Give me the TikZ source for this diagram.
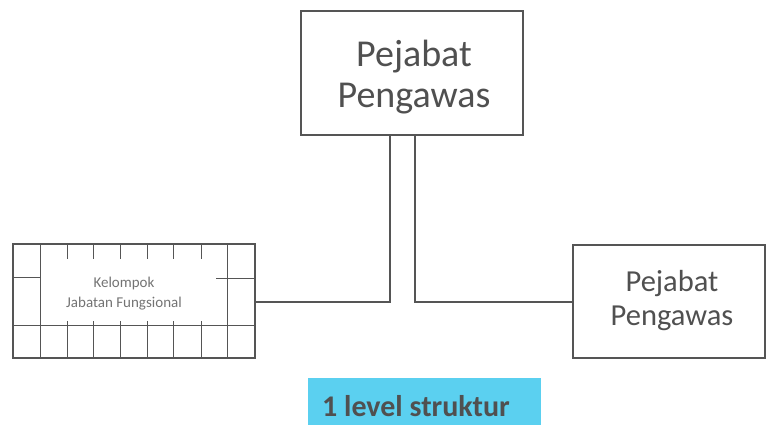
\documentclass[tikz,border=0pt]{standalone}
\usepackage{fontspec}
\setmainfont{Carlito}
\definecolor{linec}{HTML}{555555}
\definecolor{textc}{HTML}{505050}
\definecolor{cyanbox}{HTML}{5BD0F0}
\begin{document}
\begin{tikzpicture}[x=1pt,y=-1pt,
  box/.style={draw=linec,line width=1.3pt,inner sep=0pt},
  conn/.style={draw=linec,line width=1.3pt},
  grid/.style={draw=linec,line width=1.2pt}]
\useasboundingbox (0,0) rectangle (766,425);
% top box
\node[box,minimum width=222pt,minimum height=124pt] (top) at (412,73) {};
\node[text=textc,font=\fontsize{38}{41}\selectfont,align=center] (toptext) at (414,77) {Pejabat\\Pengawas};
% right box
\node[box,minimum width=192pt,minimum height=113pt] (right) at (669,301.5) {};
\node[text=textc,font=\fontsize{30.5}{34}\selectfont,align=center] (righttext) at (672,301) {Pejabat\\Pengawas};
% grid box
\node[box,minimum width=242pt,minimum height=114pt] (grid) at (134,301) {};
\coordinate (gl) at (grid.north west);
\begin{scope}[shift={(gl)}]
  % inner verticals full height
  \draw[grid] (28,0) -- (28,114);
  \draw[grid] (215,0) -- (215,114);
  % horizontal across
  \draw[grid] (0,82) -- (242,82);
  % left column split
  \draw[grid] (0,34) -- (28,34);
  % right column split
  \draw[grid] (204,35) -- (242,35);
  % top ticks and bottom verticals
  \foreach \x in {55,81,108,135,161,189} {
    \draw[grid] (\x,0) -- (\x,16);
    \draw[grid] (\x,78) -- (\x,114);
  }
\end{scope}
\node[text=textc!80,font=\fontsize{15}{20}\selectfont,align=center] (gridtext) at (124,294) {Kelompok\\Jabatan Fungsional};
% connectors
\coordinate (lb) at (390,302);
\coordinate (rb) at (415,302);
\draw[conn] (390,0 |- top.south) -- (lb) -- (lb -| grid.east);
\draw[conn] (415,0 |- top.south) -- (rb) -- (rb -| right.west);
% label
\fill[cyanbox] (308,378) rectangle (541,425);
\node[text=textc,font=\bfseries\fontsize{30}{32}\selectfont,inner sep=0pt] (label) at (416,406) {1 level struktur};
\end{tikzpicture}
\end{document}
